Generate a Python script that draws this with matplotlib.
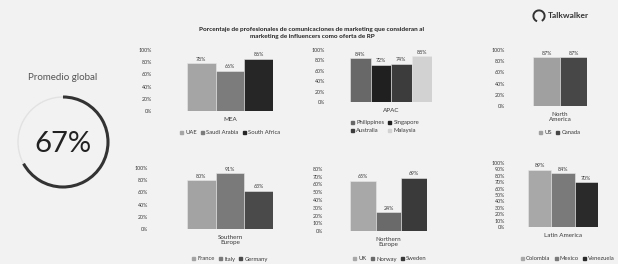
import matplotlib.pyplot as plt
from matplotlib.patches import Arc, Patch
from matplotlib.ticker import PercentFormatter

# data
title = ('Porcentaje de profesionales de comunicaciones de marketing que consideran al\n'
         'marketing de influencers como oferta de RP')
global_avg = 67

regions = ['MEA', 'APAC', 'North\nAmerica', 'Southern\nEurope', 'Northern\nEurope', 'Latin America']
countries = [
    ['UAE', 'Saudi Arabia', 'South Africa'],
    ['Philippines', 'Singapore', 'Australia', 'Malaysia'],
    ['US', 'Canada'],
    ['France', 'Italy', 'Germany'],
    ['UK', 'Norway', 'Sweden'],
    ['Colombia', 'Mexico', 'Venezuela'],
]
values = [
    [78, 66, 86],
    [84, 72, 74, 88],
    [87, 87],
    [80, 91, 63],
    [65, 24, 69],
    [89, 84, 70],
]
ymax = [100, 100, 100, 100, 80, 100]
ystep = [20, 20, 20, 20, 10, 10]

# styles
colors = [
    ['#a5a5a5', '#7c7c7c', '#262626'],
    ['#686868', '#202020', '#3c3c3c', '#d2d2d2'],
    ['#a0a0a0', '#474747'],
    ['#a3a3a3', '#7a7a7a', '#4a4a4a'],
    ['#a8a8a8', '#6a6a6a', '#3a3a3a'],
    ['#a8a8a8', '#7a7a7a', '#2a2a2a'],
]
# pixel boxes: left, right, top(ymax), bottom(0)
boxes = [
    (187, 273, 50, 111),
    (350, 432, 50, 102),
    (533, 587, 50, 106),
    (187, 273, 168, 229),
    (350, 427, 169, 231),
    (528, 598, 163, 227),
]
tick_right = [152, 325, 505, 148, 323, 505]
legend_pos = [(230, 127), (385, 117), (560, 127), (230, 253), (390, 253), (568, 253)]
legend_ncol = [3, 2, 2, 3, 3, 3]

W, H = 618, 264
plt.rcParams['font.family'] = ['Lato', 'DejaVu Sans']
txt = '#3a3a3a'

fig = plt.figure(figsize=(W / 100, H / 100), dpi=100)
fig.patch.set_facecolor('#f2f2f2')


def px_axes(l, r, t, b):
    return fig.add_axes([l / W, 1 - b / H, (r - l) / W, (b - t) / H])


def fx(x):
    return x / W


def fy(y):
    return 1 - y / H


# title and logo
fig.text(fx(312), fy(33), title, ha='center', va='center', fontsize=4.6,
         fontweight='bold', color='#222222', linespacing=1.5)
fig.text(fx(548), fy(16), 'Talkwalker', ha='left', va='center', fontsize=6,
         fontweight='bold', color='#333333')
logo = px_axes(532, 546, 9, 23)
logo.set_xlim(-1, 1)
logo.set_ylim(-1, 1)
logo.axis('off')
logo.add_patch(Arc((0, 0), 1.6, 1.6, theta1=-60, theta2=250, lw=1.4, color='#333333'))

# global average ring
fig.text(fx(63), fy(78), 'Promedio global', ha='center', va='center',
         fontsize=7, color='#555555')
ring = px_axes(13, 113, 92, 192)
ring.set_xlim(-1, 1)
ring.set_ylim(-1, 1)
ring.axis('off')
ring.add_patch(Arc((0, 0), 1.8, 1.8, theta1=0, theta2=360, lw=1.0, color='#e2e2e2'))
ring.add_patch(Arc((0, 0), 1.8, 1.8, theta1=90 - global_avg * 3.6, theta2=90,
                   lw=2.2, color='#333333'))
ring.text(0, -0.05, f'{global_avg}%', ha='center', va='center', fontsize=21,
          color='#222222')

# regional bar charts
for i, region in enumerate(regions):
    ax = px_axes(*boxes[i])
    n = len(values[i])
    xs = list(range(n))
    ax.bar(xs, values[i], width=1.0, color=colors[i], edgecolor='#e8e8e8', linewidth=0.4)
    for x, v in zip(xs, values[i]):
        ax.text(x, v + ymax[i] * 0.025, f'{v}%', ha='center', va='bottom', fontsize=3.8, color=txt)
    ax.set_xlim(-0.5, n - 0.5)
    ax.set_ylim(0, ymax[i])
    ax.set_yticks(range(0, ymax[i] + 1, ystep[i]))
    ax.yaxis.set_major_formatter(PercentFormatter(decimals=0))
    ax.set_xticks([(n - 1) / 2], [region])
    pad = (boxes[i][0] - tick_right[i]) * 0.72
    ax.tick_params(axis='y', length=0, pad=pad, labelsize=3.8, labelcolor=txt)
    ax.tick_params(axis='x', length=0, pad=4, labelsize=4.5, labelcolor=txt)
    for lab in ax.get_xticklabels():
        lab.set_linespacing(1.1)
    for s in ax.spines.values():
        s.set_visible(False)
    ax.set_facecolor('none')

    handles = [Patch(color=c, label=l) for c, l in zip(colors[i], countries[i])]
    if legend_ncol[i] == 2 and n == 4:
        handles = [handles[0], handles[2], handles[1], handles[3]]
    lx, ly = legend_pos[i]
    fig.legend(handles=handles, loc='upper center', bbox_to_anchor=(fx(lx), fy(ly)),
               ncol=legend_ncol[i], frameon=False, fontsize=4.2, handlelength=0.5,
               handleheight=0.5, handletextpad=0.4, columnspacing=0.7,
               labelcolor=txt, borderpad=0.1, labelspacing=0.5)

fig.savefig('out.png', dpi=100, facecolor=fig.get_facecolor())
